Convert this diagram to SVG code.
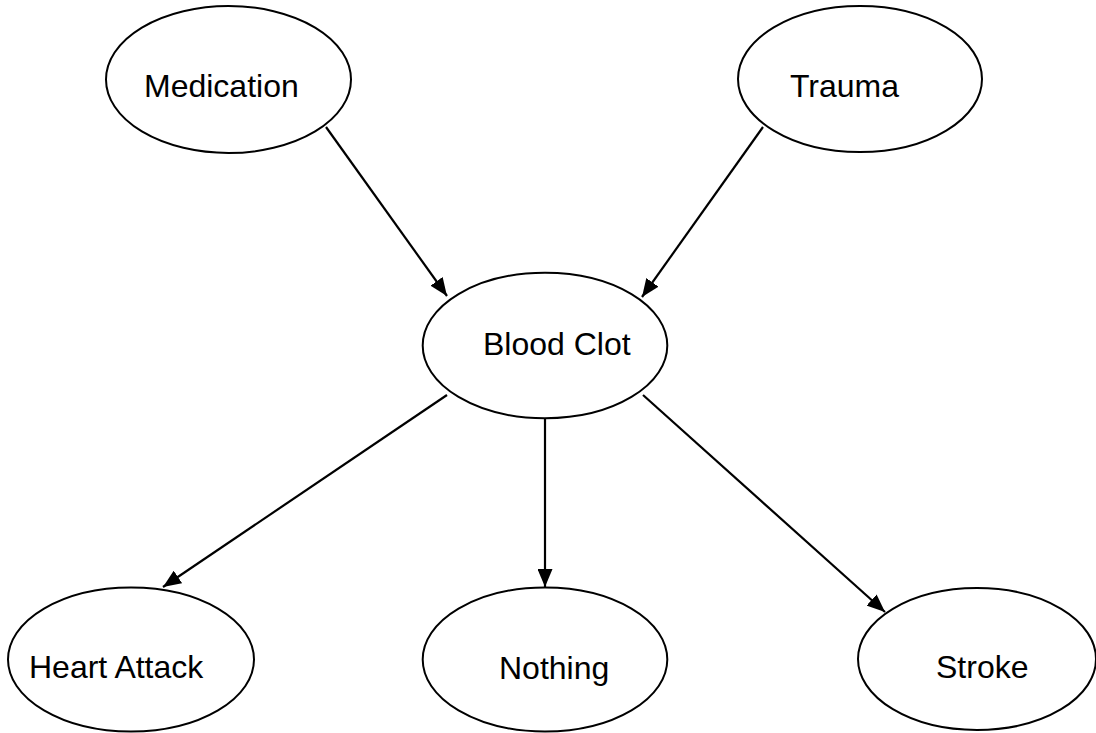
<svg xmlns="http://www.w3.org/2000/svg" width="1096" height="733" viewBox="0 0 1096 733">
<style>
.node ellipse{fill:#fff;stroke:#000;stroke-width:2}
.node text{font-family:"Liberation Sans",Arial,sans-serif;font-size:32px;fill:#000}
.edges line{stroke:#000;stroke-width:2.2}
</style>
<defs>
<marker id="arr" markerUnits="userSpaceOnUse" markerWidth="19" markerHeight="15" refX="18" refY="7.5" orient="auto">
<path d="M0,0 L18,7.5 L0,15 z" fill="#000"/>
</marker>
</defs>
<rect width="1096" height="733" fill="#fff"/>
<g class="edges">
<line x1="326" y1="127" x2="447" y2="296" marker-end="url(#arr)"/>
<line x1="763" y1="127" x2="642" y2="297" marker-end="url(#arr)"/>
<line x1="447" y1="395" x2="163" y2="587" marker-end="url(#arr)"/>
<line x1="545" y1="419" x2="545" y2="587" marker-end="url(#arr)"/>
<line x1="643" y1="395" x2="885" y2="612" marker-end="url(#arr)"/>
</g>
<g id="medication" class="node"><ellipse cx="228.5" cy="79.5" rx="122.5" ry="73.5"/><text x="144" y="97">Medication</text></g>
<g id="trauma" class="node"><ellipse cx="860" cy="79" rx="122" ry="73"/><text x="790" y="97">Trauma</text></g>
<g id="bloodclot" class="node"><ellipse cx="545" cy="345.5" rx="122.3" ry="72.8"/><text x="483" y="355">Blood Clot</text></g>
<g id="heartattack" class="node"><ellipse cx="131" cy="659.5" rx="123" ry="72"/><text x="29" y="678">Heart Attack</text></g>
<g id="nothing" class="node"><ellipse cx="545" cy="659.5" rx="122.3" ry="72"/><text x="499" y="679">Nothing</text></g>
<g id="stroke" class="node"><ellipse cx="977" cy="659" rx="119" ry="71"/><text x="936" y="678">Stroke</text></g>
</svg>
